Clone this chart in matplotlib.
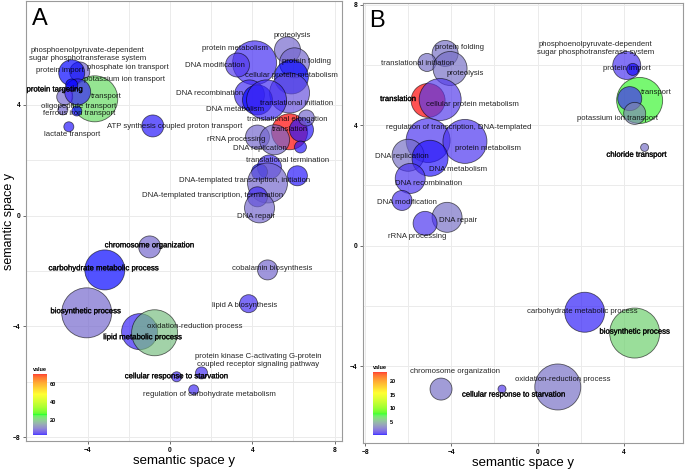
#!/usr/bin/env python

import numpy as np
import matplotlib
matplotlib.use("Agg")
import matplotlib.pyplot as plt
import matplotlib.patheffects as pe
from matplotlib.colors import ListedColormap, Normalize
from matplotlib.cm import ScalarMappable

plt.rcParams['font.family'] = ['Liberation Sans', 'DejaVu Sans']

# ---- panel A bubbles (x, y, relative size, value)
a_x = [-4.39, -4.78, -3.66, -5.12, -4.49, -4.78, -4.53, -5.21, -4.92, -0.84,
       4.11, 3.28, 5.71, 6.05, 5.90, 5.81, 3.86, 4.25, 4.69,
       5.81, 6.39, 6.63, 6.34, 4.25, 5.08, 4.83, 4.35, 4.74, 6.19, 4.25, 4.35,
       -0.99, -3.17, 4.74, 3.82, -4.05, -1.48, -0.75, 1.53, 0.32, 1.15]
a_y = [5.19, 5.16, 4.22, 4.29, 4.47, 4.72, 3.78, 3.82, 3.21, 3.24,
       5.52, 5.44, 5.99, 5.52, 5.01, 4.43, 4.36, 4.18, 4.18,
       3.03, 3.10, 3.53, 2.48, 2.84, 2.74, 1.76, 1.58, 1.18, 1.44, 0.68, 0.28,
       -1.13, -1.96, -1.96, -3.18, -3.51, -4.19, -4.23, -5.68, -5.82, -6.29]
a_size = [10, 13, 23, 8, 13, 6, 5, 5, 5, 11,
          22, 12, 13, 15, 17, 20, 15, 15, 20,
          18, 12, 8, 6, 12, 15, 12, 8, 20, 10, 10, 15,
          11, 20, 10, 9, 25, 18, 23, 6, 5, 5]
a_val = [10, 3.5, 22, 10, 4.5, 3.5, 3.5, 10, 4, 4,
         5, 6, 10, 10, 3.5, 8, 5, 3.5, 5,
         71, 4, 10, 4, 10, 10, 5, 3.5, 10, 4, 5, 10,
         10, 3.5, 10, 5, 10, 4.5, 19, 5, 5, 5]

# ---- panel A labels
a_lab = ["phosphoenolpyruvate-dependent\nsugar phosphotransferase system",
         "protein import", "phosphate ion transport", "potassium ion transport",
         "protein targeting", "transport", "oligopeptide transport",
         "ferrous iron transport", "lactate transport",
         "ATP synthesis coupled proton transport", "proteolysis",
         "protein metabolism", "DNA modification", "protein folding",
         "cellular protein metabolism", "DNA recombination",
         "translational initiation", "DNA metabolism",
         "translational elongation", "translation", "rRNA processing",
         "DNA replication", "translational termination",
         "DNA-templated transcription, initiation",
         "DNA-templated transcription, termination", "DNA repair",
         "chromosome organization", "carbohydrate metabolic process",
         "cobalamin biosynthesis", "lipid A biosynthesis",
         "biosynthetic process", "lipid metabolic process",
         "oxidation-reduction process",
         "protein kinase C-activating G-protein\ncoupled receptor signaling pathway",
         "cellular response to starvation",
         "regulation of carbohydrate metabolism"]
a_lx = [-4.0, -5.36, -2.06, -2.20, -5.60, -3.08, -4.44, -4.44, -4.78, 0.22,
        5.95, 3.14, 2.17, 6.63, 5.90, 1.92, 6.15, 3.14, 5.71, 5.81, 3.23,
        4.35, 5.71, 3.62, 2.07, 4.20, -0.99, -3.22, 4.98, 3.62, -4.10,
        -1.33, 1.19, 4.30, 0.32, 1.92]
a_ly = [5.81, 5.23, 5.34, 4.90, 4.54, 4.32, 3.96, 3.68, 2.92, 3.21,
        6.49, 6.02, 5.44, 5.55, 5.05, 4.40, 4.04, 3.82, 3.49, 3.10, 2.74,
        2.41, 1.98, 1.26, 0.71, -0.04, -1.09, -1.92, -1.92, -3.26, -3.47,
        -4.41, -4.01, -5.24, -5.82, -6.47]
a_bold = ["protein targeting", "chromosome organization",
          "carbohydrate metabolic process", "biosynthetic process",
          "lipid metabolic process", "cellular response to starvation"]

# ---- panel B bubbles
b_x = [-4.29, -5.13, -4.06, -5.08, -4.52, -5.08, -3.37, -6.01, -4.99, -5.91,
       -6.29, -4.20, -5.22, 4.14, 4.42, 4.74, 4.28, 4.51, 4.97,
       2.19, 4.51, -4.48, -1.65, 0.94]
b_y = [6.38, 6.08, 5.88, 4.82, 4.85, 3.49, 3.46, 3.00, 2.90, 2.23,
       1.50, 0.94, 0.74, 5.98, 5.85, 4.82, 4.88, 4.39, 3.26,
       -2.21, -2.90, -4.76, -4.76, -4.69]
b_size = [13, 9, 17, 17, 21, 22, 22, 16, 18, 15,
          10, 15, 12, 14, 6, 23, 12, 11, 4,
          20, 25, 11, 4, 23]
b_val = [2.8, 2.8, 2.8, 23.3, 1.2, 1.0, 1.0, 2.8, 0.5, 1.0,
         1.0, 2.8, 1.0, 1.0, 0.4, 7.6, 0.8, 3.6, 2.8,
         0.6, 6.2, 2.8, 1.2, 2.8]

# ---- panel B labels
b_lab = ["protein folding", "translational initiation", "proteolysis",
         "translation", "cellular protein metabolism",
         "regulation of transcription, DNA-templated", "protein metabolism",
         "DNA replication", "DNA metabolism", "DNA recombination",
         "DNA modification", "DNA repair", "rRNA processing",
         "phosphoenolpyruvate-dependent\nsugar phosphotransferase system",
         "protein import", "transport", "potassium ion transport",
         "chloride transport", "carbohydrate metabolic process",
         "biosynthetic process", "chromosome organization",
         "cellular response to starvation", "oxidation-reduction process"]
b_lx = [-3.60, -5.59, -3.37, -6.47, -3.0, -3.64, -2.30, -6.29, -3.69, -5.08,
        -6.05, -3.69, -5.59, 2.70, 4.14, 5.53, 3.72, 4.60, 2.10, 4.51,
        -3.83, -1.10, 1.18]
b_ly = [6.57, 6.04, 5.71, 4.85, 4.69, 3.92, 3.23, 2.96, 2.53, 2.07,
        1.44, 0.84, 0.31, 6.54, 5.88, 5.08, 4.22, 3.00, -2.18, -2.87,
        -4.16, -4.96, -4.43]
b_bold = ["translation", "chloride transport", "biosynthetic process",
          "cellular response to starvation"]

a_range = (3.3, 71)
b_range = (0.25, 23.3)


def to_lab(rgb):
    c = np.asarray(rgb, float)
    lin = np.where(c <= 0.04045, c / 12.92, ((c + 0.055) / 1.055) ** 2.4)
    M = np.array([[0.4124, 0.3576, 0.1805],
                  [0.2126, 0.7152, 0.0722],
                  [0.0193, 0.1192, 0.9505]])
    xyz = M @ lin / np.array([0.95047, 1.0, 1.08883])
    f = np.where(xyz > 0.008856, np.cbrt(xyz), 7.787 * xyz + 16 / 116)
    return np.array([116 * f[1] - 16, 500 * (f[0] - f[1]), 200 * (f[1] - f[2])])


def from_lab(lab):
    L, a, b = lab
    fy = (L + 16) / 116
    fx = fy + a / 500
    fz = fy - b / 200
    f = np.array([fx, fy, fz])
    xyz = np.where(f ** 3 > 0.008856, f ** 3, (f - 16 / 116) / 7.787)
    xyz = xyz * np.array([0.95047, 1.0, 1.08883])
    Mi = np.array([[3.2406, -1.5372, -0.4986],
                   [-0.9689, 1.8758, 0.0415],
                   [0.0557, -0.2040, 1.0570]])
    lin = np.clip(Mi @ xyz, 0, 1)
    c = np.where(lin <= 0.0031308, 12.92 * lin, 1.055 * lin ** (1 / 2.4) - 0.055)
    return np.clip(c, 0, 1)


# ggplot-like gradient blue -> green -> yellow -> red, interpolated in Lab
anchors = [to_lab(c) for c in [(0, 0, 1), (0, 1, 0), (1, 1, 0), (1, 0, 0)]]
cols = []
for t in np.linspace(0, 1, 256):
    seg = min(int(t * 3), 2)
    u = t * 3 - seg
    cols.append(from_lab(anchors[seg] * (1 - u) + anchors[seg + 1] * u))
cmap = ListedColormap(cols)


def panel(ax, xs, ys, sz, vals, labs, lxs, lys, bold, vr, xlim, ylim,
          xticks, yticks, letter):
    norm = Normalize(*vr)
    fc = cmap(norm(np.array(vals)))
    fc[:, 3] = 0.68
    s = (1.44 * np.array(sz)) ** 2
    ax.scatter(xs, ys, s=s, c=fc, edgecolors=(0, 0, 0, 0.6),
               linewidths=0.6, zorder=3)
    for t, x, y in zip(labs, lxs, lys):
        kw = {}
        if t in bold:
            kw['path_effects'] = [pe.withStroke(linewidth=0.2, foreground='black')]
        ax.text(x, y, t, fontsize=5.6, ha='center', va='center',
                color=(0, 0, 0, 0.85), zorder=4, linespacing=1.25, **kw)
    ax.set_xlim(*xlim)
    ax.set_ylim(*ylim)
    ax.set_xticks(xticks)
    ax.set_yticks(yticks)
    ax.set_xticks(np.array(xticks[:-1]) + 2, minor=True)
    ax.set_yticks(np.array(yticks[:-1]) + 2, minor=True)
    ax.grid(True, which='both', color='#ebebeb', lw=0.7, zorder=0)
    ax.set_axisbelow(True)
    ax.tick_params(which='minor', length=0)
    ax.tick_params(which='major', length=2.5, width=0.6, color='#555555',
                   labelsize=4.8, pad=1.5)
    for lb in ax.get_xticklabels() + ax.get_yticklabels():
        lb.set_fontweight('bold')
    for sp in ax.spines.values():
        sp.set_color('#9a9a9a')
        sp.set_linewidth(0.8)
    ax.set_xlabel("semantic space y", fontsize=9.5, labelpad=1)
    ax.text(0.02, 0.985, letter, transform=ax.transAxes, fontsize=17,
            ha='left', va='top')
    return norm


fig = plt.figure(figsize=(6.85, 4.7), dpi=100)
ax_a = fig.add_axes([0.038, 0.0617, 0.461, 0.936])
ax_b = fig.add_axes([0.530, 0.0574, 0.467, 0.936])

norm_a = panel(ax_a, a_x, a_y, a_size, a_val, a_lab, a_lx, a_ly, a_bold,
               a_range, (-7.0, 8.35), (-8.14, 7.75), [-4, 0, 4, 8],
               [-8, -4, 0, 4], "A")
ax_a.set_ylabel("semantic space y", fontsize=9)
ax_a.yaxis.set_label_coords(-0.036, 0.5)
norm_b = panel(ax_b, b_x, b_y, b_size, b_val, b_lab, b_lx, b_ly, b_bold,
               b_range, (-8.1, 6.75), (-6.55, 8.05), [-8, -4, 0, 4],
               [-4, 0, 4, 8], "B")

# colour legends
for pos, norm, ticks in [([0.048, 0.0745, 0.0204, 0.130], norm_a, [20, 40, 60]),
                         ([0.5445, 0.0745, 0.0204, 0.134], norm_b, [5, 10, 15, 20])]:
    cax = fig.add_axes(pos)
    cb = fig.colorbar(ScalarMappable(norm=norm, cmap=cmap), cax=cax,
                      ticks=ticks, alpha=0.8)
    cb.outline.set_visible(False)
    cax.tick_params(length=0, labelsize=4, pad=2)
    for lb in cax.get_yticklabels():
        lb.set_fontweight('bold')
    cax.set_title("value", fontsize=4, fontweight='bold', pad=2, loc='left')

fig.savefig("out.png", dpi=100)
